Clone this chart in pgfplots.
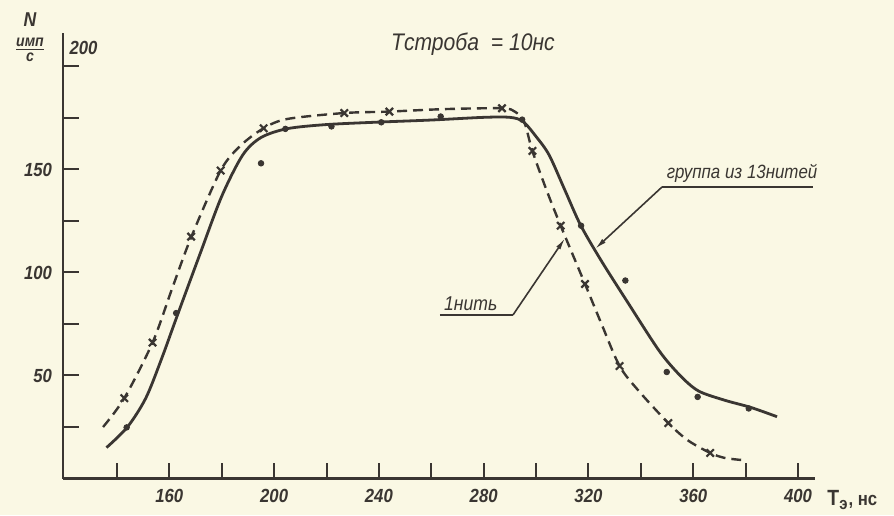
\documentclass[border=0pt]{standalone}
\usepackage{fontspec}
\setmainfont{Liberation Sans}[FakeStretch=0.88]
\usepackage{pgfplots}
\pgfplotsset{compat=1.18}
\usetikzlibrary{arrows.meta}
\definecolor{paper}{RGB}{250,248,228}
\definecolor{ink}{RGB}{58,54,50}
\begin{document}
\begin{tikzpicture}
\path[use as bounding box, fill=paper] (-31.5pt,-18.25pt) rectangle (415.5pt,239.25pt);
\begin{axis}[
  at={(0,0)}, anchor=south west,
  scale only axis, width=376pt, height=222.5pt,
  xmin=119.4, xmax=406.5, ymin=0, ymax=216,
  axis lines=left, axis line style={-, line width=1.2pt, ink},
  xtick={140,160,...,400},
  xticklabels={,160,,200,,240,,280,,320,,360,,400},
  ytick={25,50,...,200},
  yticklabels={,50,,100,,150,,},
  tick align=inside, major tick length=8pt,
  tick style={line width=1pt, ink},
  ticklabel style={font=\fontsize{9.5}{11}\selectfont\bfseries\itshape, text=ink},
  yticklabel style={xshift=-2pt},
  xticklabel style={yshift=-2pt},
  clip=false,
]
% group of 13 wires (solid)
\addplot[ink, line width=1.4pt, smooth] coordinates {
(136,15) (144,25) (151,39) (157,58) (163,79) (172,110) (180,137) (188,157)
(195,165.5) (205,169.8) (220,171.8) (240,173) (260,174) (280,175.3) (290,175.3)
(295,173.3) (300,166) (305,157) (311,140) (317,123) (325,105.5) (335,85.5)
(347,62) (355,50) (362,42.5) (372,38) (382,34.5) (392,30)
};
% one wire (dashed)
\addplot[ink, line width=1.2pt, dash pattern=on 5pt off 3pt, smooth] coordinates {
(134.7,25) (142.8,39) (153.6,66) (161,92) (168.3,117) (179.6,149.5)
(187.3,161.7) (196,170) (205,174.5) (226.8,177.4) (244,178.1) (265,179.3)
(287,179.7) (292,178) (295.5,173) (298.6,159) (304,140) (309.4,122.7)
(318.7,94.4) (325,75) (331.9,54.6) (339.2,42.5) (350.5,26.9) (358,18.5)
(366.5,12.4) (372,10) (378.3,9)
};
% crosses
\addplot[only marks, mark=x, mark size=2.6pt, ink, mark options={line width=1.1pt}] coordinates {
(142.8,39) (153.6,66) (168.3,117.4) (179.6,149.5) (196,170) (226.8,177.4)
(244,178.1) (287,179.7) (298.6,159) (309.4,122.7) (318.7,94.4) (331.9,54.6)
(350.5,26.9) (366.5,12.4)
};
% dots
\addplot[only marks, mark=*, mark size=1.4pt, ink] coordinates {
(143.7,24.8) (162.6,80.3) (195,153) (204.3,169.7) (221.9,170.9) (240.9,172.9)
(263.6,175.7) (294.7,174.2) (317.2,122.7) (334.1,96.1) (349.9,51.7) (361.7,39.6)
(381.2,34)
};
% annotations
\draw[ink, line width=0.8pt] (axis cs:348.1,141.5) -- (axis cs:405.7,141.5);
\draw[ink, line width=0.8pt, -{Latex[length=6pt,width=2.5pt]}] (axis cs:348.1,141.5) -- (axis cs:322.5,111.4);
\node[anchor=south west, inner sep=1pt, font=\fontsize{9.6}{12}\selectfont\itshape, text=ink] at (axis cs:349,142.3) {группа из 13нитей};
\draw[ink, line width=0.8pt] (axis cs:263.3,79.4) -- (axis cs:291.2,79.4);
\draw[ink, line width=0.8pt, -{Latex[length=6pt,width=2.5pt]}] (axis cs:291.2,79.4) -- (axis cs:311.1,116.7);
\node[anchor=south west, inner sep=1pt, font=\fontsize{10}{12}\selectfont\itshape, text=ink] at (axis cs:264,80.2) {1нить};
\node[font=\fontsize{12}{14}\selectfont\itshape, text=ink] at (axis cs:275.9,210.9) {Tстроба \ = 10нс};
\node[font=\fontsize{9.5}{11}\selectfont\bfseries\itshape, text=ink, xshift=10.25pt, yshift=9.5pt] at (axis cs:119.4,200) {200};
\node[font=\fontsize{10}{12}\selectfont\itshape\bfseries, text=ink] at (axis cs:106.8,222.6) {N};
\node[text=ink] at (axis cs:106.8,208) {$\frac{\mbox{\fontsize{8}{9}\selectfont\bfseries\itshape имп}}{\mbox{\fontsize{8}{9}\selectfont\bfseries\itshape с}}$};
\node[anchor=west, inner sep=0pt, text=ink] at (axis cs:411.1,-10.4) {\fontsize{11}{13}\selectfont\bfseries T$_{\mbox{\fontsize{8.5}{10}\selectfont\bfseries э}}$\fontsize{9.5}{11}\selectfont\bfseries, нс};
\end{axis}
\end{tikzpicture}
\end{document}
